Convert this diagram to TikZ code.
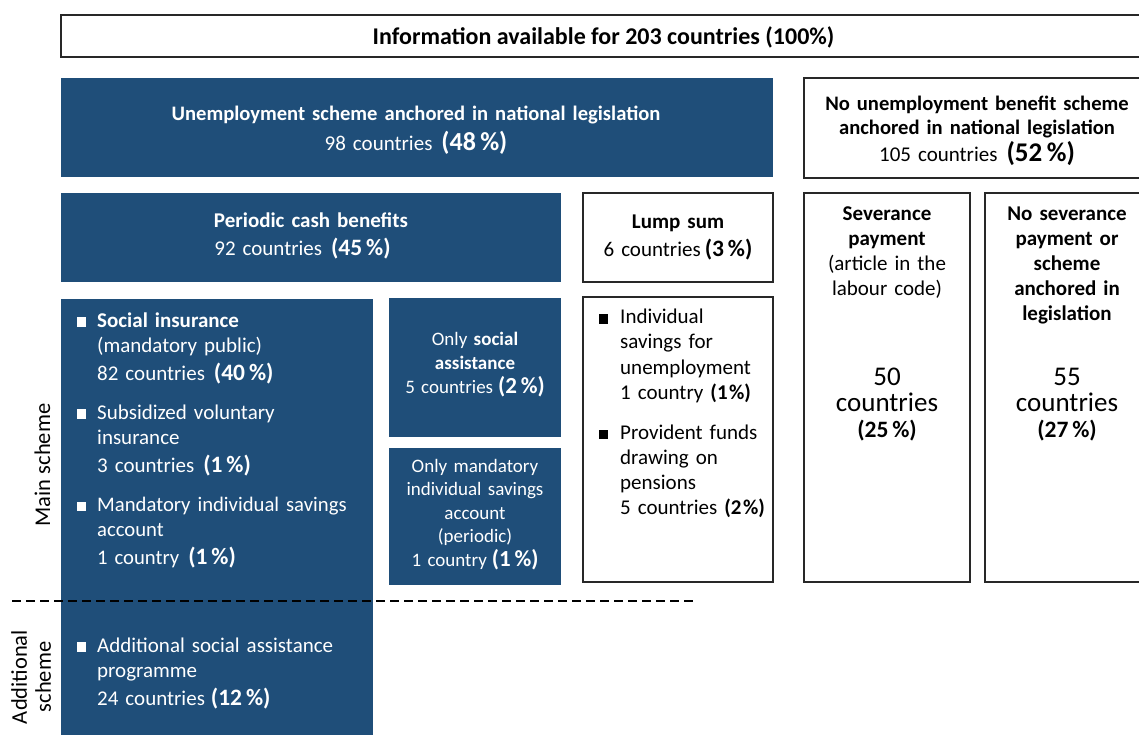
\documentclass[tikz,border=0pt]{standalone}
\usepackage{fontspec}
\setmainfont{Carlito}
\definecolor{ilo}{RGB}{31,78,121}
\definecolor{edge}{RGB}{40,40,40}
\newcommand\bigpct[2]{{\fontsize{#1}{#1}\selectfont\bfseries(#2\,\%)}}
\begin{document}
\begin{tikzpicture}[x=1pt,y=-1pt,
  box/.style={anchor=north west, inner sep=0pt, outer sep=0pt},
  bluebox/.style={box, fill=ilo},
  whitebox/.style={box, draw=edge, line width=1.2pt, fill=white},
  txt/.style={anchor=base, inner sep=0pt, align=center, font=\fontsize{21}{25}\selectfont},
  wtxt/.style={txt, text=white},
  ltxt/.style={anchor=base west, inner sep=0pt, align=left, font=\fontsize{21}{25}\selectfont},
  wltxt/.style={ltxt, text=white},
  wbul/.style={fill=white, minimum size=9.5pt, inner sep=0pt, outer sep=0pt},
  kbul/.style={fill=black, minimum size=9.5pt, inner sep=0pt, outer sep=0pt},
  sidelabel/.style={anchor=base, inner sep=0pt, rotate=90, font=\fontsize{22.5}{24}\selectfont},
  divider/.style={line width=2pt, dash pattern=on 9pt off 5pt},
]
\useasboundingbox (0,0) rectangle (1139,734);
\clip (0,0) rectangle (1139,734);

% boxes
\node[whitebox, minimum width=1087pt, minimum height=42pt] (top) at (61,15) {};
\node[bluebox, minimum width=712pt, minimum height=99pt] (unemp) at (61,78) {};
\node[whitebox, minimum width=346pt, minimum height=100pt] (nounemp) at (804,78) {};
\node[bluebox, minimum width=500pt, minimum height=89pt] (periodic) at (61,193) {};
\node[whitebox, minimum width=190pt, minimum height=89pt] (lumpsum) at (583,193) {};
\node[whitebox, minimum width=166pt, minimum height=389pt] (sever) at (804,193) {};
\node[whitebox, minimum width=166pt, minimum height=389pt] (nosever) at (985,193) {};
\node[bluebox, minimum width=312pt, minimum height=445pt] (socins) at (61,299) {};
\node[bluebox, minimum width=172pt, minimum height=139pt] (onlysa) at (389,298) {};
\node[bluebox, minimum width=172pt, minimum height=137pt] (onlymand) at (389,448) {};
\node[whitebox, minimum width=190pt, minimum height=285pt] (lumplist) at (583,297) {};

% top texts
\node[anchor=base, inner sep=0pt, font=\fontsize{24}{26}\selectfont\bfseries] (titletxt) at (603.5,44.5)
  {Information available for 203 countries (100\%)};
\node[wtxt, text width=700pt] (unemptxt) at (416,120)
  {{\fontsize{20.6}{25}\selectfont\bfseries Unemployment scheme anchored in national legislation}\\[5pt]
   98 countries\hspace{9pt}\bigpct{26}{48}};
\node[txt, text width=340pt, font=\fontsize{21}{24}\selectfont] (nounemptxt) at (977,110)
  {{\fontsize{20.6}{24}\selectfont\bfseries No unemployment benefit scheme}\\
   {\fontsize{20.6}{24}\selectfont\bfseries anchored in national legislation}\\[3pt]
   105 countries\hspace{9pt}\bigpct{27}{52}\hspace*{18pt}};
\node[wtxt, text width=480pt] (periodictxt) at (311,227)
  {\textbf{Periodic cash benefits}\\[3pt]
   92 countries\hspace{9pt}\bigpct{23.5}{45}\hspace*{17pt}};
\node[txt, text width=180pt] (lumpsumtxt) at (678,228)
  {\textbf{Lump sum}\\[3pt]
   6 countries\hspace{4pt}\bigpct{23.5}{3}};

% severance columns
\node[txt, text width=160pt] (severtxt) at (887,220)
  {\textbf{Severance}\\\textbf{payment}\\(article in the\\labour code)};
\node[txt, text width=160pt, font=\fontsize{27}{26.3}\selectfont] (severnum) at (887,385)
  {50\\countries\\{\fontsize{23.5}{23.5}\selectfont\bfseries(25\,\%)}};
\node[txt, text width=160pt] (nosevertxt) at (1067,220)
  {\textbf{No severance}\\\textbf{payment or}\\\textbf{scheme}\\\textbf{anchored in}\\\textbf{legislation}};
\node[txt, text width=160pt, font=\fontsize{27}{26.3}\selectfont] (nosevernum) at (1067,385)
  {55\\countries\\{\fontsize{23.5}{23.5}\selectfont\bfseries(27\,\%)}};

% social insurance column
\node[wbul] (b1) at (81.5,322) {};
\node[wltxt, text width=270pt] (si1) at (97,327)
  {\textbf{Social insurance}\\(mandatory public)\\[3pt]
   82 countries\hspace{9pt}\bigpct{23.5}{40}};
\node[wbul] (b2) at (81.5,414) {};
\node[wltxt, text width=270pt] (si2) at (97,419)
  {Subsidized voluntary\\insurance\\[3pt]
   3 countries\hspace{9pt}\bigpct{23.5}{1}};
\node[wbul] (b3) at (81.5,506.5) {};
\node[wltxt, text width=270pt, font=\fontsize{20.7}{25}\selectfont] (si3) at (97,511)
  {Mandatory individual savings\\account\\[3pt]
   1 country\hspace{9pt}\bigpct{23.5}{1}};
\node[wbul] (b4) at (81.5,647) {};
\node[wltxt, text width=270pt] (si4) at (97,652)
  {Additional social assistance\\programme\\[3pt]
   24 countries\hspace{6pt}\bigpct{23.5}{12}};

% middle blue boxes
\node[wtxt, text width=168pt, font=\fontsize{19}{24}\selectfont] (onlysatxt) at (475,345)
  {Only \textbf{social}\\\textbf{assistance}\\
   5 countries\hspace{5pt}\bigpct{23}{2}};
\node[wtxt, text width=168pt, font=\fontsize{19}{23.5}\selectfont] (onlymandtxt) at (475,472)
  {Only mandatory\\individual savings\\account\\(periodic)\\
   1 country\hspace{5pt}\bigpct{23}{1}};

% lump-sum list
\node[kbul] (b5) at (603.5,319) {};
\node[ltxt, text width=150pt, font=\fontsize{21}{25.3}\selectfont] (ll1) at (620,323.5)
  {Individual\\savings for\\unemployment\\1 country \textbf{(1\hspace{1.5pt}\%)}};
\node[kbul] (b6) at (603.5,434.5) {};
\node[ltxt, text width=150pt, font=\fontsize{21}{25}\selectfont] (ll2) at (620,439.5)
  {Provident funds\\drawing on\\pensions\\5 countries \textbf{(2\hspace{1.5pt}\%)}};

% side labels and divider
\node[sidelabel] (mainlbl) at (50,465) {Main scheme};
\node[sidelabel, align=center, text width=120pt] (addlbl) at (27,677) {Additional\\scheme};
\coordinate (dl) at (12,601);
\coordinate (dr) at (697,601);
\draw[divider] (dl) -- (dr);
\end{tikzpicture}
\end{document}
